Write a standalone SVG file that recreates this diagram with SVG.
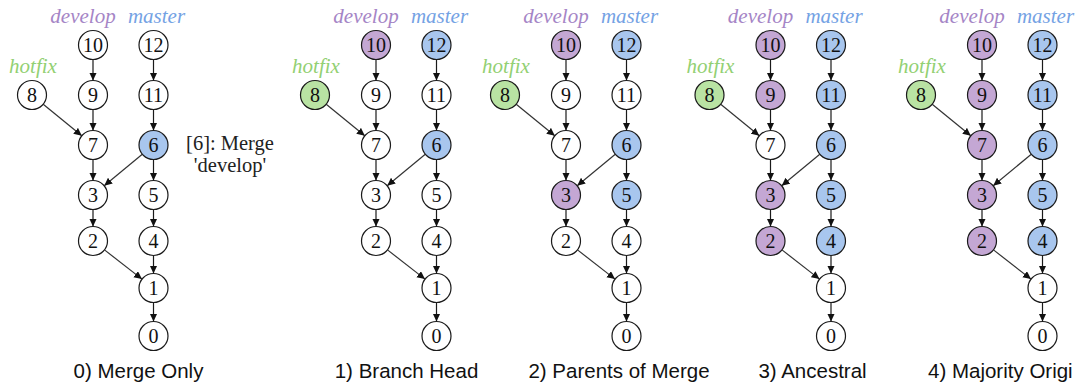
<svg xmlns="http://www.w3.org/2000/svg" width="1078" height="389" viewBox="0 0 1078 389">
<style>
.bg{fill:#ffffff}
circle{stroke:#1a1a1a;stroke-width:1.2}
.w{fill:#ffffff}
.p{fill:#c4a7d4}
.b{fill:#a8c6ee}
.g{fill:#b9e3a3}
.num{font-family:"Liberation Serif",serif;font-size:20px;text-anchor:middle;fill:#111}
.lab{font-family:"Liberation Serif",serif;font-style:italic;font-size:21px;text-anchor:middle}
.dev{fill:#a585c6}
.mas{fill:#74a2e4}
.hot{fill:#92d072}
.cap{font-family:"Liberation Sans",Arial,sans-serif;font-size:20.5px;fill:#111}
.note{font-family:"Liberation Serif",serif;font-size:20.5px;text-anchor:middle;fill:#222}
.e line{stroke:#1a1a1a;stroke-width:1.2;marker-end:url(#ah)}
.e line.d{stroke:#333}
</style>
<defs>
<marker id="ah" markerUnits="userSpaceOnUse" markerWidth="9" markerHeight="8" refX="8" refY="3.75" orient="auto">
<path d="M0,0 L8,3.75 L0,7.5 z" fill="#111"/>
</marker>
</defs>
<rect class="bg" x="0" y="0" width="1078" height="389"/>

<!-- Panel 0 -->
<g id="panel0">
<g class="e" id="p0-connectors">
<line x1="93" y1="59.5" x2="93" y2="80.5"/>
<line x1="93" y1="109.5" x2="93" y2="130.5"/>
<line x1="93" y1="159.5" x2="93" y2="180.5"/>
<line x1="93" y1="209.5" x2="93" y2="226.5"/>
<line x1="153.5" y1="59.5" x2="153.5" y2="80.5"/>
<line x1="153.5" y1="109.5" x2="153.5" y2="130.5"/>
<line x1="153.5" y1="159.5" x2="153.5" y2="180.5"/>
<line x1="153.5" y1="209.5" x2="153.5" y2="226.5"/>
<line x1="153.5" y1="255.5" x2="153.5" y2="273.5"/>
<line x1="153.5" y1="302.5" x2="153.5" y2="321.5"/>
<line class="d" x1="43.2" y1="104.2" x2="81.8" y2="135.8"/>
<line class="d" x1="142.3" y1="154.2" x2="104.2" y2="185.8"/>
<line class="d" x1="104.5" y1="249.9" x2="142" y2="279.1"/>
</g>
<text class="lab dev" x="83" y="23">develop</text>
<text class="lab mas" x="156.5" y="23">master</text>
<text class="lab hot" x="33" y="73">hotfix</text>
<g id="p0-n10"><circle class="w" cx="93" cy="45" r="14.5"/><text class="num" x="93" y="52">10</text></g>
<g id="p0-n9"><circle class="w" cx="93" cy="95" r="14.5"/><text class="num" x="93" y="102">9</text></g>
<g id="p0-n7"><circle class="w" cx="93" cy="145" r="14.5"/><text class="num" x="93" y="152">7</text></g>
<g id="p0-n3"><circle class="w" cx="93" cy="195" r="14.5"/><text class="num" x="93" y="202">3</text></g>
<g id="p0-n2"><circle class="w" cx="93" cy="241" r="14.5"/><text class="num" x="93" y="248">2</text></g>
<g id="p0-n12"><circle class="w" cx="153.5" cy="45" r="14.5"/><text class="num" x="153.5" y="52">12</text></g>
<g id="p0-n11"><circle class="w" cx="153.5" cy="95" r="14.5"/><text class="num" x="153.5" y="102">11</text></g>
<g id="p0-n6"><circle class="b" cx="153.5" cy="145" r="14.5"/><text class="num" x="153.5" y="152">6</text></g>
<g id="p0-n5"><circle class="w" cx="153.5" cy="195" r="14.5"/><text class="num" x="153.5" y="202">5</text></g>
<g id="p0-n4"><circle class="w" cx="153.5" cy="241" r="14.5"/><text class="num" x="153.5" y="248">4</text></g>
<g id="p0-n1"><circle class="w" cx="153.5" cy="288" r="14.5"/><text class="num" x="153.5" y="295">1</text></g>
<g id="p0-n0"><circle class="w" cx="153.5" cy="336" r="14.5"/><text class="num" x="153.5" y="343">0</text></g>
<g id="p0-n8"><circle class="w" cx="32" cy="95" r="14.5"/><text class="num" x="32" y="102">8</text></g>
<text class="note" x="230" y="150">[6]: Merge</text>
<text class="note" x="230" y="172">'develop'</text>
</g>

<!-- Panel 1 -->
<g id="panel1" transform="translate(283,0)">
<g class="e" id="p1-connectors">
<line x1="93" y1="59.5" x2="93" y2="80.5"/>
<line x1="93" y1="109.5" x2="93" y2="130.5"/>
<line x1="93" y1="159.5" x2="93" y2="180.5"/>
<line x1="93" y1="209.5" x2="93" y2="226.5"/>
<line x1="153.5" y1="59.5" x2="153.5" y2="80.5"/>
<line x1="153.5" y1="109.5" x2="153.5" y2="130.5"/>
<line x1="153.5" y1="159.5" x2="153.5" y2="180.5"/>
<line x1="153.5" y1="209.5" x2="153.5" y2="226.5"/>
<line x1="153.5" y1="255.5" x2="153.5" y2="273.5"/>
<line x1="153.5" y1="302.5" x2="153.5" y2="321.5"/>
<line class="d" x1="43.2" y1="104.2" x2="81.8" y2="135.8"/>
<line class="d" x1="142.3" y1="154.2" x2="104.2" y2="185.8"/>
<line class="d" x1="104.5" y1="249.9" x2="142" y2="279.1"/>
</g>
<text class="lab dev" x="83" y="23">develop</text>
<text class="lab mas" x="156.5" y="23">master</text>
<text class="lab hot" x="33" y="73">hotfix</text>
<g id="p1-n10"><circle class="p" cx="93" cy="45" r="14.5"/><text class="num" x="93" y="52">10</text></g>
<g id="p1-n9"><circle class="w" cx="93" cy="95" r="14.5"/><text class="num" x="93" y="102">9</text></g>
<g id="p1-n7"><circle class="w" cx="93" cy="145" r="14.5"/><text class="num" x="93" y="152">7</text></g>
<g id="p1-n3"><circle class="w" cx="93" cy="195" r="14.5"/><text class="num" x="93" y="202">3</text></g>
<g id="p1-n2"><circle class="w" cx="93" cy="241" r="14.5"/><text class="num" x="93" y="248">2</text></g>
<g id="p1-n12"><circle class="b" cx="153.5" cy="45" r="14.5"/><text class="num" x="153.5" y="52">12</text></g>
<g id="p1-n11"><circle class="w" cx="153.5" cy="95" r="14.5"/><text class="num" x="153.5" y="102">11</text></g>
<g id="p1-n6"><circle class="b" cx="153.5" cy="145" r="14.5"/><text class="num" x="153.5" y="152">6</text></g>
<g id="p1-n5"><circle class="w" cx="153.5" cy="195" r="14.5"/><text class="num" x="153.5" y="202">5</text></g>
<g id="p1-n4"><circle class="w" cx="153.5" cy="241" r="14.5"/><text class="num" x="153.5" y="248">4</text></g>
<g id="p1-n1"><circle class="w" cx="153.5" cy="288" r="14.5"/><text class="num" x="153.5" y="295">1</text></g>
<g id="p1-n0"><circle class="w" cx="153.5" cy="336" r="14.5"/><text class="num" x="153.5" y="343">0</text></g>
<g id="p1-n8"><circle class="g" cx="32" cy="95" r="14.5"/><text class="num" x="32" y="102">8</text></g>
</g>

<!-- Panel 2 -->
<g id="panel2" transform="translate(473,0)">
<g class="e" id="p2-connectors">
<line x1="93" y1="59.5" x2="93" y2="80.5"/>
<line x1="93" y1="109.5" x2="93" y2="130.5"/>
<line x1="93" y1="159.5" x2="93" y2="180.5"/>
<line x1="93" y1="209.5" x2="93" y2="226.5"/>
<line x1="153.5" y1="59.5" x2="153.5" y2="80.5"/>
<line x1="153.5" y1="109.5" x2="153.5" y2="130.5"/>
<line x1="153.5" y1="159.5" x2="153.5" y2="180.5"/>
<line x1="153.5" y1="209.5" x2="153.5" y2="226.5"/>
<line x1="153.5" y1="255.5" x2="153.5" y2="273.5"/>
<line x1="153.5" y1="302.5" x2="153.5" y2="321.5"/>
<line class="d" x1="43.2" y1="104.2" x2="81.8" y2="135.8"/>
<line class="d" x1="142.3" y1="154.2" x2="104.2" y2="185.8"/>
<line class="d" x1="104.5" y1="249.9" x2="142" y2="279.1"/>
</g>
<text class="lab dev" x="83" y="23">develop</text>
<text class="lab mas" x="156.5" y="23">master</text>
<text class="lab hot" x="33" y="73">hotfix</text>
<g id="p2-n10"><circle class="p" cx="93" cy="45" r="14.5"/><text class="num" x="93" y="52">10</text></g>
<g id="p2-n9"><circle class="w" cx="93" cy="95" r="14.5"/><text class="num" x="93" y="102">9</text></g>
<g id="p2-n7"><circle class="w" cx="93" cy="145" r="14.5"/><text class="num" x="93" y="152">7</text></g>
<g id="p2-n3"><circle class="p" cx="93" cy="195" r="14.5"/><text class="num" x="93" y="202">3</text></g>
<g id="p2-n2"><circle class="w" cx="93" cy="241" r="14.5"/><text class="num" x="93" y="248">2</text></g>
<g id="p2-n12"><circle class="b" cx="153.5" cy="45" r="14.5"/><text class="num" x="153.5" y="52">12</text></g>
<g id="p2-n11"><circle class="w" cx="153.5" cy="95" r="14.5"/><text class="num" x="153.5" y="102">11</text></g>
<g id="p2-n6"><circle class="b" cx="153.5" cy="145" r="14.5"/><text class="num" x="153.5" y="152">6</text></g>
<g id="p2-n5"><circle class="b" cx="153.5" cy="195" r="14.5"/><text class="num" x="153.5" y="202">5</text></g>
<g id="p2-n4"><circle class="w" cx="153.5" cy="241" r="14.5"/><text class="num" x="153.5" y="248">4</text></g>
<g id="p2-n1"><circle class="w" cx="153.5" cy="288" r="14.5"/><text class="num" x="153.5" y="295">1</text></g>
<g id="p2-n0"><circle class="w" cx="153.5" cy="336" r="14.5"/><text class="num" x="153.5" y="343">0</text></g>
<g id="p2-n8"><circle class="g" cx="32" cy="95" r="14.5"/><text class="num" x="32" y="102">8</text></g>
</g>

<!-- Panel 3 -->
<g id="panel3" transform="translate(677.5,0)">
<g class="e" id="p3-connectors">
<line x1="93" y1="59.5" x2="93" y2="80.5"/>
<line x1="93" y1="109.5" x2="93" y2="130.5"/>
<line x1="93" y1="159.5" x2="93" y2="180.5"/>
<line x1="93" y1="209.5" x2="93" y2="226.5"/>
<line x1="153.5" y1="59.5" x2="153.5" y2="80.5"/>
<line x1="153.5" y1="109.5" x2="153.5" y2="130.5"/>
<line x1="153.5" y1="159.5" x2="153.5" y2="180.5"/>
<line x1="153.5" y1="209.5" x2="153.5" y2="226.5"/>
<line x1="153.5" y1="255.5" x2="153.5" y2="273.5"/>
<line x1="153.5" y1="302.5" x2="153.5" y2="321.5"/>
<line class="d" x1="43.2" y1="104.2" x2="81.8" y2="135.8"/>
<line class="d" x1="142.3" y1="154.2" x2="104.2" y2="185.8"/>
<line class="d" x1="104.5" y1="249.9" x2="142" y2="279.1"/>
</g>
<text class="lab dev" x="83" y="23">develop</text>
<text class="lab mas" x="156.5" y="23">master</text>
<text class="lab hot" x="33" y="73">hotfix</text>
<g id="p3-n10"><circle class="p" cx="93" cy="45" r="14.5"/><text class="num" x="93" y="52">10</text></g>
<g id="p3-n9"><circle class="p" cx="93" cy="95" r="14.5"/><text class="num" x="93" y="102">9</text></g>
<g id="p3-n7"><circle class="w" cx="93" cy="145" r="14.5"/><text class="num" x="93" y="152">7</text></g>
<g id="p3-n3"><circle class="p" cx="93" cy="195" r="14.5"/><text class="num" x="93" y="202">3</text></g>
<g id="p3-n2"><circle class="p" cx="93" cy="241" r="14.5"/><text class="num" x="93" y="248">2</text></g>
<g id="p3-n12"><circle class="b" cx="153.5" cy="45" r="14.5"/><text class="num" x="153.5" y="52">12</text></g>
<g id="p3-n11"><circle class="b" cx="153.5" cy="95" r="14.5"/><text class="num" x="153.5" y="102">11</text></g>
<g id="p3-n6"><circle class="b" cx="153.5" cy="145" r="14.5"/><text class="num" x="153.5" y="152">6</text></g>
<g id="p3-n5"><circle class="b" cx="153.5" cy="195" r="14.5"/><text class="num" x="153.5" y="202">5</text></g>
<g id="p3-n4"><circle class="b" cx="153.5" cy="241" r="14.5"/><text class="num" x="153.5" y="248">4</text></g>
<g id="p3-n1"><circle class="w" cx="153.5" cy="288" r="14.5"/><text class="num" x="153.5" y="295">1</text></g>
<g id="p3-n0"><circle class="w" cx="153.5" cy="336" r="14.5"/><text class="num" x="153.5" y="343">0</text></g>
<g id="p3-n8"><circle class="g" cx="32" cy="95" r="14.5"/><text class="num" x="32" y="102">8</text></g>
</g>

<!-- Panel 4 -->
<g id="panel4" transform="translate(889,0)">
<g class="e" id="p4-connectors">
<line x1="93" y1="59.5" x2="93" y2="80.5"/>
<line x1="93" y1="109.5" x2="93" y2="130.5"/>
<line x1="93" y1="159.5" x2="93" y2="180.5"/>
<line x1="93" y1="209.5" x2="93" y2="226.5"/>
<line x1="153.5" y1="59.5" x2="153.5" y2="80.5"/>
<line x1="153.5" y1="109.5" x2="153.5" y2="130.5"/>
<line x1="153.5" y1="159.5" x2="153.5" y2="180.5"/>
<line x1="153.5" y1="209.5" x2="153.5" y2="226.5"/>
<line x1="153.5" y1="255.5" x2="153.5" y2="273.5"/>
<line x1="153.5" y1="302.5" x2="153.5" y2="321.5"/>
<line class="d" x1="43.2" y1="104.2" x2="81.8" y2="135.8"/>
<line class="d" x1="142.3" y1="154.2" x2="104.2" y2="185.8"/>
<line class="d" x1="104.5" y1="249.9" x2="142" y2="279.1"/>
</g>
<text class="lab dev" x="83" y="23">develop</text>
<text class="lab mas" x="156.5" y="23">master</text>
<text class="lab hot" x="33" y="73">hotfix</text>
<g id="p4-n10"><circle class="p" cx="93" cy="45" r="14.5"/><text class="num" x="93" y="52">10</text></g>
<g id="p4-n9"><circle class="p" cx="93" cy="95" r="14.5"/><text class="num" x="93" y="102">9</text></g>
<g id="p4-n7"><circle class="p" cx="93" cy="145" r="14.5"/><text class="num" x="93" y="152">7</text></g>
<g id="p4-n3"><circle class="p" cx="93" cy="195" r="14.5"/><text class="num" x="93" y="202">3</text></g>
<g id="p4-n2"><circle class="p" cx="93" cy="241" r="14.5"/><text class="num" x="93" y="248">2</text></g>
<g id="p4-n12"><circle class="b" cx="153.5" cy="45" r="14.5"/><text class="num" x="153.5" y="52">12</text></g>
<g id="p4-n11"><circle class="b" cx="153.5" cy="95" r="14.5"/><text class="num" x="153.5" y="102">11</text></g>
<g id="p4-n6"><circle class="b" cx="153.5" cy="145" r="14.5"/><text class="num" x="153.5" y="152">6</text></g>
<g id="p4-n5"><circle class="b" cx="153.5" cy="195" r="14.5"/><text class="num" x="153.5" y="202">5</text></g>
<g id="p4-n4"><circle class="b" cx="153.5" cy="241" r="14.5"/><text class="num" x="153.5" y="248">4</text></g>
<g id="p4-n1"><circle class="w" cx="153.5" cy="288" r="14.5"/><text class="num" x="153.5" y="295">1</text></g>
<g id="p4-n0"><circle class="w" cx="153.5" cy="336" r="14.5"/><text class="num" x="153.5" y="343">0</text></g>
<g id="p4-n8"><circle class="g" cx="32" cy="95" r="14.5"/><text class="num" x="32" y="102">8</text></g>
</g>

<g id="captions">
<text class="cap" x="138.5" y="378" text-anchor="middle">0) Merge Only</text>
<text class="cap" x="406.5" y="378" text-anchor="middle">1) Branch Head</text>
<text class="cap" x="619" y="378" text-anchor="middle">2) Parents of Merge</text>
<text class="cap" x="812.5" y="378" text-anchor="middle">3) Ancestral</text>
<text class="cap" x="928" y="378">4) Majority Origi</text>
</g>
</svg>
